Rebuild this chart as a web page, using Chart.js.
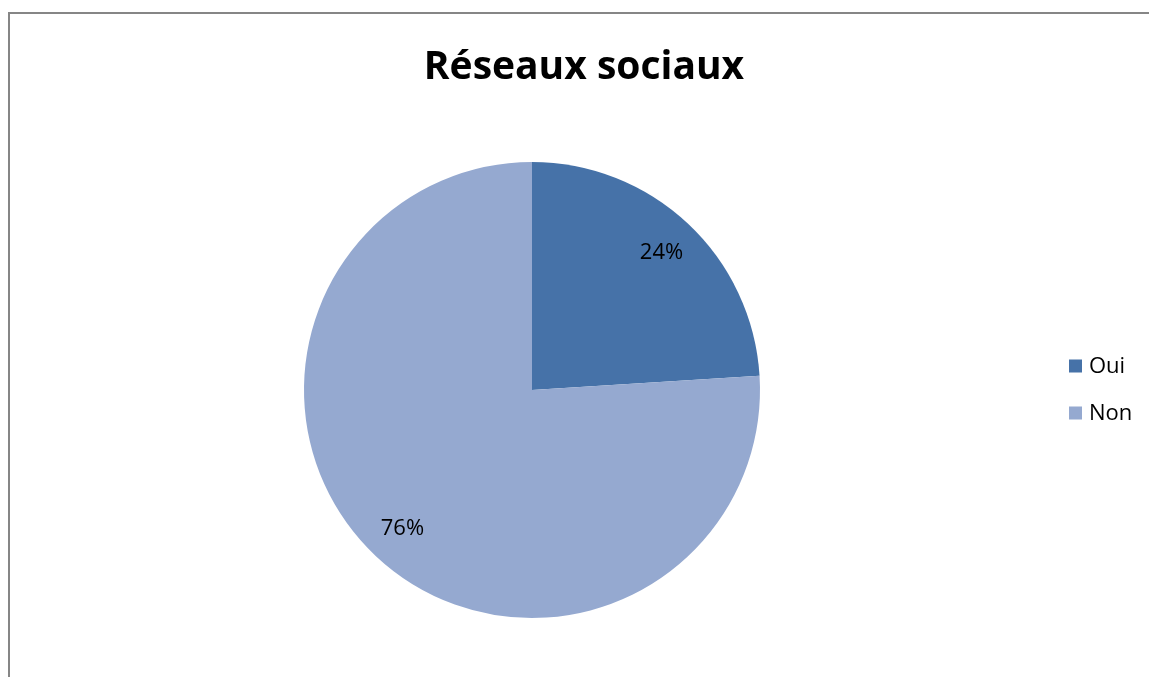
<!DOCTYPE html>
<html>
<head>
<meta charset="utf-8">
<script src="https://cdn.jsdelivr.net/npm/chart.js@4/dist/chart.umd.min.js"></script>
<style>
  html, body { margin: 0; padding: 0; background: #ffffff; }
  #wrap { position: relative; width: 1149px; height: 677px; }
</style>
</head>
<body>
<div id="wrap"><canvas id="c" width="1149" height="677"></canvas></div>
<script>
// Chart data
const title = 'Réseaux sociaux';
const categories = ['Oui', 'Non'];
const shares = [24, 76];
const colors = ['#4672A8', '#95A9D0'];

const FONT = '"Open Sans", "DejaVu Sans", sans-serif';

// Outer frame of the chart (left and top edges, running off the page)
const framePlugin = {
  id: 'frame',
  beforeDraw(chart) {
    const ctx = chart.ctx;
    ctx.save();
    ctx.fillStyle = '#ffffff';
    ctx.fillRect(0, 0, chart.width, chart.height);
    ctx.strokeStyle = '#868686';
    ctx.lineWidth = 2;
    ctx.beginPath();
    ctx.moveTo(9, chart.height + 2);
    ctx.lineTo(9, 13);
    ctx.lineTo(chart.width + 2, 13);
    ctx.stroke();
    ctx.restore();
  }
};

// Title, percentage labels and the legend on the right
const decorPlugin = {
  id: 'decor',
  afterDatasetsDraw(chart) {
    const ctx = chart.ctx;
    ctx.save();
    ctx.fillStyle = '#000000';
    ctx.textAlign = 'center';
    ctx.textBaseline = 'alphabetic';
    ctx.font = 'bold 39px ' + FONT;
    ctx.fillText(title, 584, 79);

    // value labels inside each slice
    const meta = chart.getDatasetMeta(0);
    ctx.font = '22px ' + FONT;
    ctx.textBaseline = 'middle';
    const total = shares.reduce((a, b) => a + b, 0);
    meta.data.forEach((arc, i) => {
      const p = arc.getProps(['x', 'y', 'startAngle', 'endAngle', 'outerRadius'], true);
      const mid = (p.startAngle + p.endAngle) / 2;
      const r = p.outerRadius * 0.83;
      const pct = Math.round(shares[i] / total * 100) + '%';
      ctx.fillText(pct, p.x + Math.cos(mid) * r, p.y + Math.sin(mid) * r + 1);
    });

    // legend
    ctx.textAlign = 'left';
    ctx.font = '22px ' + FONT;
    categories.forEach((name, i) => {
      const cy = 366 + i * 47;
      ctx.fillStyle = colors[i];
      ctx.fillRect(1069, cy - 6.5, 13, 13);
      ctx.fillStyle = '#000000';
      ctx.fillText(name, 1089, cy + 1);
    });
    ctx.restore();
  }
};

new Chart(document.getElementById('c'), {
  type: 'pie',
  data: {
    labels: categories,
    datasets: [{
      data: shares,
      backgroundColor: colors,
      borderWidth: 0
    }]
  },
  options: {
    responsive: false,
    animation: false,
    layout: { padding: { left: 304, right: 389, top: 162, bottom: 59 } },
    plugins: {
      legend: { display: false },
      title: { display: false },
      tooltip: { enabled: false }
    }
  },
  plugins: [framePlugin, decorPlugin]
});
</script>
</body>
</html>
